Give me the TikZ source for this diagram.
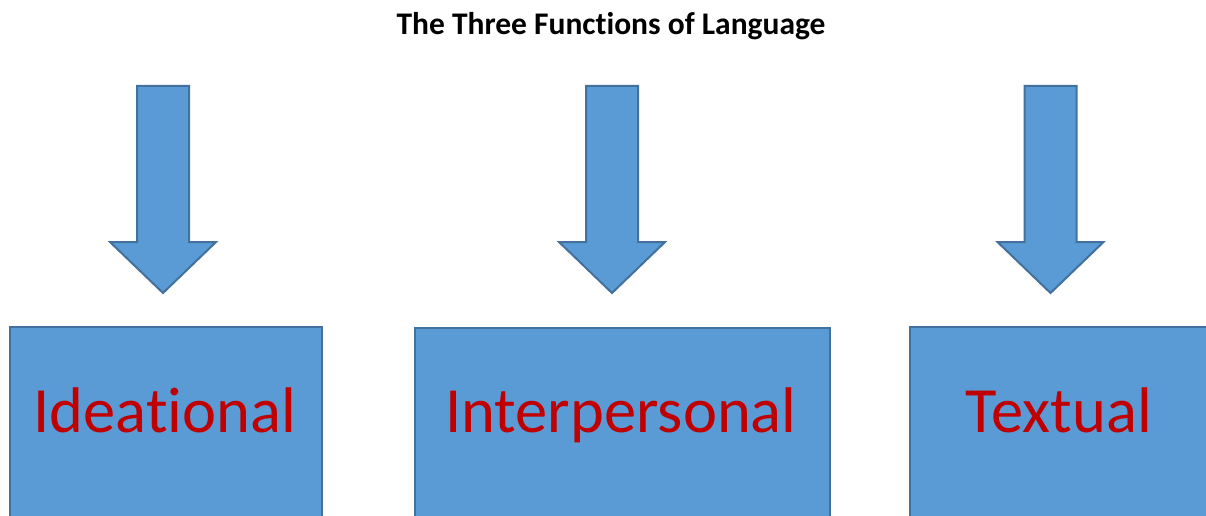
\documentclass[tikz,border=0pt]{standalone}
\usepackage{fontspec}
\setmainfont{Carlito}[Ligatures={NoCommon}]
\definecolor{boxfill}{HTML}{5B9BD5}
\definecolor{boxline}{HTML}{41719C}
\definecolor{labelred}{HTML}{C00000}
\tikzset{
  blockfill/.style={fill=boxfill, draw=boxline, line width=2pt, line join=miter},
  funcbox/.style={blockfill, rectangle, inner sep=0pt},
  functext/.style={text=labelred, font=\fontsize{64.5}{76}\selectfont, anchor=base, inner sep=0pt},
  downarrow/.pic={
    \path[blockfill] (-26,0) -- (26,0) -- (26,156) -- (53,156) -- (0,207)
      -- (-53,156) -- (-26,156) -- cycle;
  }
}
\begin{document}
\begin{tikzpicture}[x=1pt, y=-1pt]
  \clip (0,0) rectangle (1206,516);
  \fill[white] (0,0) rectangle (1206,516);

  % title
  \node[font=\fontsize{31.5}{38}\selectfont\bfseries, anchor=base, inner sep=0pt]
    (title) at (611,35) {The Three Functions of Language};

  % arrows
  \pic at (163,86) {downarrow};
  \pic at (612,86) {downarrow};
  \pic at (1050.5,86) {downarrow};

  % function boxes
  \node[funcbox, minimum width=312pt, minimum height=230pt, anchor=north west]
    (ideational) at (9,326) {};
  \node[funcbox, minimum width=415pt, minimum height=230pt, anchor=north west]
    (interpersonal) at (414,327) {};
  \node[funcbox, minimum width=310pt, minimum height=230pt, anchor=north west]
    (textual) at (909,326) {};

  \node[functext] (t1) at (165,432) {Ideational};
  \node[functext] (t2) at (621,432) {Interpersonal};
  \node[functext] (t3) at (1059,432) {Textual};
\end{tikzpicture}
\end{document}
